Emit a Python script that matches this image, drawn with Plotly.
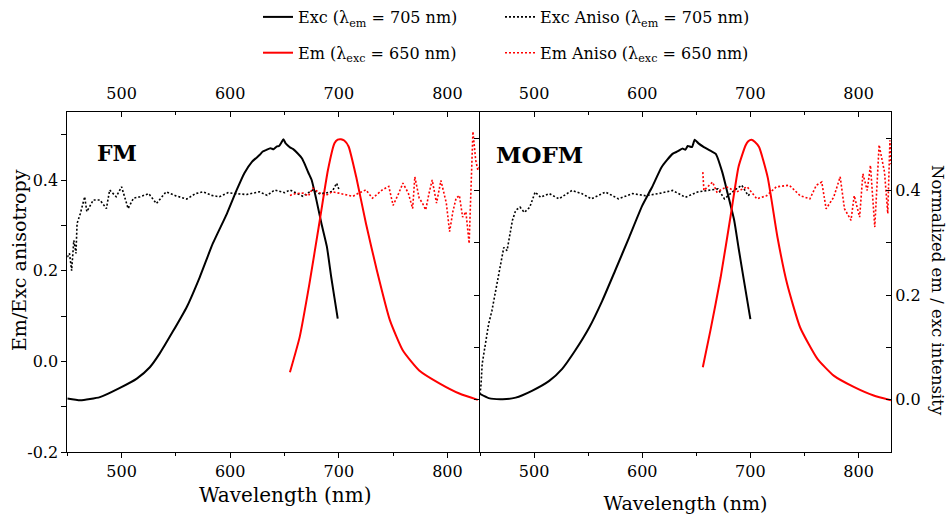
import plotly.graph_objects as go

# ---------------- data ----------------
# FM panel (left axis: Em/Exc anisotropy scale)
fm_exc_wl = [450, 462, 480, 498, 514, 526, 535, 547, 560, 572, 584, 597, 606, 613, 620, 627, 630, 633, 637, 640,
             643, 645, 647, 649, 651, 653, 655, 658, 662, 666, 669, 672, 675, 679, 684, 689, 693, 696, 699]
fm_exc = [-0.082, -0.086, -0.079, -0.059, -0.038, -0.013, 0.017, 0.065, 0.12, 0.186, 0.26, 0.326, 0.378, 0.415,
          0.44, 0.455, 0.463, 0.466, 0.47, 0.468, 0.474, 0.475, 0.482, 0.49, 0.481, 0.476, 0.472, 0.468, 0.459,
          0.448, 0.433, 0.416, 0.40, 0.36, 0.304, 0.253, 0.186, 0.14, 0.094]
fm_em_wl = [655, 664, 673, 682, 690, 696, 699, 702, 705, 709, 716, 725, 735, 747, 759, 774, 793, 811, 828]
fm_em = [-0.024, 0.054, 0.172, 0.304, 0.422, 0.481, 0.489, 0.49, 0.487, 0.474, 0.407, 0.304, 0.201, 0.091, 0.024,
         -0.02, -0.049, -0.071, -0.085]
fm_exc_aniso_wl = [450, 452, 454, 456, 458, 459, 462, 466, 468, 474, 480, 486, 489, 495, 500, 506, 511, 517, 525,
                   532, 541, 550, 560, 568, 575, 583, 590, 598, 605, 615, 627, 634, 641, 650, 655, 662, 667, 672,
                   676, 682, 688, 694, 698, 700]
fm_exc_aniso = [0.23, 0.238, 0.2, 0.267, 0.238, 0.304, 0.326, 0.363, 0.33, 0.356, 0.356, 0.337, 0.378, 0.363,
                0.385, 0.337, 0.36, 0.363, 0.37, 0.348, 0.374, 0.365, 0.358, 0.37, 0.374, 0.366, 0.363, 0.372,
                0.37, 0.368, 0.374, 0.366, 0.378, 0.372, 0.378, 0.37, 0.364, 0.372, 0.378, 0.37, 0.371, 0.375,
                0.393, 0.38]
fm_em_aniso_wl = [655, 660, 667, 672, 676, 682, 688, 694, 700, 706, 713, 719, 725, 731, 736, 740, 746, 750, 755,
                  759, 764, 768, 770, 774, 777, 780, 783, 786, 790, 794, 799, 802, 805, 808, 811, 814, 817, 820,
                  823.5, 826, 828, 830]
fm_em_aniso = [0.366, 0.37, 0.371, 0.365, 0.382, 0.372, 0.366, 0.374, 0.371, 0.368, 0.364, 0.372, 0.378, 0.36,
               0.37, 0.378, 0.386, 0.344, 0.37, 0.393, 0.371, 0.337, 0.407, 0.36, 0.349, 0.334, 0.37, 0.40,
               0.349, 0.399, 0.349, 0.286, 0.33, 0.36, 0.366, 0.318, 0.33, 0.26, 0.507, 0.444, 0.422, 0.43]

# MOFM panel (right axis: normalized em / exc intensity scale)
mofm_exc_wl = [450, 458, 471, 483, 498, 514, 526, 538, 551, 563, 575, 588, 600, 609, 618, 628, 633, 637, 640, 642,
               646, 648.5, 652, 657, 663, 668, 674, 679, 685, 689, 694, 700]
mofm_exc = [0.011, 0.003, 0.001, 0.004, 0.017, 0.036, 0.059, 0.094, 0.138, 0.189, 0.247, 0.311, 0.371, 0.406,
            0.445, 0.47, 0.475, 0.48, 0.478, 0.485, 0.483, 0.497, 0.49, 0.483, 0.476, 0.47, 0.435, 0.394, 0.343,
            0.291, 0.228, 0.154]
mofm_em_wl = [656, 663, 672.5, 682, 689, 695.5, 698, 701, 704, 708, 716, 725, 734, 746, 762, 777, 796, 814, 830]
mofm_em = [0.062, 0.132, 0.234, 0.355, 0.445, 0.486, 0.494, 0.497, 0.493, 0.483, 0.425, 0.311, 0.221, 0.138,
           0.078, 0.046, 0.024, 0.008, -0.001]
mofm_exc_aniso_wl = [450, 451, 452, 455, 458, 461, 464.5, 467.5, 472, 475, 480, 483, 487, 491, 496, 501, 506, 514,
                     523, 535, 544, 553, 566, 578, 591, 603, 615, 628, 640, 651, 660, 670, 676, 685, 692, 698, 700]
mofm_exc_aniso = [0.01, 0.03, 0.068, 0.107, 0.145, 0.17, 0.209, 0.247, 0.291, 0.285, 0.343, 0.362, 0.368, 0.358,
                  0.368, 0.397, 0.387, 0.394, 0.384, 0.40, 0.394, 0.384, 0.397, 0.384, 0.394, 0.39, 0.394, 0.40,
                  0.387, 0.397, 0.40, 0.403, 0.384, 0.40, 0.41, 0.39, 0.395]
mofm_em_aniso_wl = [656, 657, 665, 669, 678, 687, 697, 706, 715, 724, 736, 746, 755, 761, 766, 770, 777, 783, 787,
                    793, 796, 801, 804, 808, 811, 815, 819, 824, 827, 829, 830]
mofm_em_aniso = [0.435, 0.40, 0.416, 0.397, 0.407, 0.397, 0.407, 0.384, 0.39, 0.407, 0.41, 0.39, 0.384, 0.41,
                 0.416, 0.365, 0.387, 0.426, 0.365, 0.343, 0.39, 0.349, 0.432, 0.40, 0.448, 0.33, 0.487, 0.435,
                 0.356, 0.496, 0.45]

x_ticks = [500, 600, 700, 800]
x_minor = [450, 550, 650, 750]
left_y_ticks = [-0.2, 0.0, 0.2, 0.4]
left_y_text = ["-0.2", "0.0", "0.2", "0.4"]
left_y_minor = [-0.1, 0.1, 0.3, 0.5]
right_y_ticks = [0.0, 0.2, 0.4]
right_y_text = ["0.0", "0.2", "0.4"]
right_y_minor = [0.1, 0.3, 0.5]
inner_ticks = [0.0, 0.1, 0.2, 0.3, 0.4, 0.5]

lbl_exc = "Exc (λ<sub>em</sub> = 705 nm)"
lbl_em = "Em (λ<sub>exc</sub> = 650 nm)"
lbl_exc_an = "Exc Aniso (λ<sub>em</sub> = 705 nm)"
lbl_em_an = "Em Aniso (λ<sub>exc</sub> = 650 nm)"

FONT = "DejaVu Serif"
W, H = 948, 517
XL = [67.3 / W, 480 / W]
XR = [480 / W, 891 / W]
YD = [(H - 452) / H, (H - 112) / H]

SOLID = dict(width=2, shape="spline", smoothing=0.5)
DOT = dict(width=1.6, dash="2px,2px")

fig = go.Figure()
# left panel (FM)
fig.add_trace(go.Scatter(x=fm_exc_wl, y=fm_exc, mode="lines", line=dict(SOLID, color="black"),
                         name=lbl_exc, legend="legend", legendgroup="a", xaxis="x", yaxis="y"))
fig.add_trace(go.Scatter(x=fm_em_wl, y=fm_em, mode="lines", line=dict(SOLID, color="red"),
                         name=lbl_em, legend="legend", legendgroup="b", xaxis="x", yaxis="y"))
fig.add_trace(go.Scatter(x=fm_exc_aniso_wl, y=fm_exc_aniso, mode="lines", line=dict(DOT, color="black"),
                         name=lbl_exc_an, legend="legend2", legendgroup="c", xaxis="x", yaxis="y"))
fig.add_trace(go.Scatter(x=fm_em_aniso_wl, y=fm_em_aniso, mode="lines", line=dict(DOT, color="red"),
                         name=lbl_em_an, legend="legend2", legendgroup="d", xaxis="x", yaxis="y"))
# right panel (MOFM)
fig.add_trace(go.Scatter(x=mofm_exc_wl, y=mofm_exc, mode="lines", line=dict(SOLID, color="black"),
                         showlegend=False, xaxis="x2", yaxis="y2"))
fig.add_trace(go.Scatter(x=mofm_em_wl, y=mofm_em, mode="lines", line=dict(SOLID, color="red"),
                         showlegend=False, xaxis="x2", yaxis="y2"))
fig.add_trace(go.Scatter(x=mofm_exc_aniso_wl, y=mofm_exc_aniso, mode="lines", line=dict(DOT, color="black"),
                         showlegend=False, xaxis="x2", yaxis="y2"))
fig.add_trace(go.Scatter(x=mofm_em_aniso_wl, y=mofm_em_aniso, mode="lines", line=dict(DOT, color="red"),
                         showlegend=False, xaxis="x2", yaxis="y2"))
# empty traces so the top (mirror) axes get their own subplots drawn
fig.add_trace(go.Scatter(x=[], y=[], mode="lines", showlegend=False, hoverinfo="skip", xaxis="x3", yaxis="y"))
fig.add_trace(go.Scatter(x=[], y=[], mode="lines", showlegend=False, hoverinfo="skip", xaxis="x4", yaxis="y2"))
fig.add_trace(go.Scatter(x=[], y=[], mode="lines", showlegend=False, hoverinfo="skip", xaxis="x2", yaxis="y4"))

tickfont = dict(family=FONT, size=16, color="black")
common_x = dict(range=[450, 830], showgrid=False, zeroline=False, showline=True, linecolor="black",
                linewidth=1, tickvals=x_ticks, ticklen=5, tickcolor="black", tickfont=tickfont,
                automargin=False)
minor_out_x = dict(tickvals=x_minor, ticklen=3, tickcolor="black", ticks="outside")
minor_in_x = dict(tickvals=x_minor, ticklen=3, tickcolor="black", ticks="inside")

fig.update_layout(
    width=W, height=H, template="none", paper_bgcolor="white", plot_bgcolor="rgba(0,0,0,0)",
    margin=dict(l=0, r=0, t=0, b=0),
    font=dict(family=FONT, color="black"),
    xaxis=dict(common_x, domain=XL, anchor="y", side="bottom", ticks="outside", minor=minor_out_x),
    xaxis3=dict(common_x, domain=XL, anchor="y", overlaying="x", side="top", ticks="inside",
                minor=minor_in_x, ticklabelstandoff=6),
    xaxis2=dict(common_x, domain=XR, anchor="y2", side="bottom", ticks="outside", minor=minor_out_x,
                title=dict(text="Wavelength (nm)", font=dict(family=FONT, size=19), standoff=16)),
    xaxis4=dict(common_x, domain=XR, anchor="y2", overlaying="x2", side="top", ticks="inside",
                minor=minor_in_x, ticklabelstandoff=6),
    yaxis=dict(domain=YD, anchor="x", range=[-0.2, 0.55], side="left", showgrid=False, zeroline=False,
               showline=True, linecolor="black", linewidth=1, ticks="outside", ticklen=5, tickcolor="black",
               tickvals=left_y_ticks, ticktext=left_y_text, tickfont=tickfont, automargin=False,
               minor=dict(tickvals=left_y_minor, ticklen=5, tickcolor="black", ticks="outside")),
    yaxis2=dict(domain=YD, anchor="x2", range=[-0.1, 0.55], side="right", showgrid=False, zeroline=False,
                showline=True, linecolor="black", linewidth=1, ticks="inside", ticklen=5, tickcolor="black",
                tickvals=right_y_ticks, ticktext=right_y_text, tickfont=tickfont, automargin=False,
                minor=dict(tickvals=right_y_minor, ticklen=5, tickcolor="black", ticks="inside")),
    yaxis4=dict(domain=YD, anchor="x2", overlaying="y2", range=[-0.1, 0.55], side="left", showgrid=False,
                zeroline=False, showline=True, linecolor="black", linewidth=1, ticks="outside", ticklen=5,
                tickcolor="black", tickvals=inner_ticks, showticklabels=False, automargin=False),
    legend=dict(x=258 / W, y=1, xanchor="left", yanchor="top", orientation="v",
                font=dict(family=FONT, size=16), tracegroupgap=12, bgcolor="rgba(0,0,0,0)"),
    legend2=dict(x=500 / W, y=1, xanchor="left", yanchor="top", orientation="v",
                 font=dict(family=FONT, size=16), tracegroupgap=12, bgcolor="rgba(0,0,0,0)"),
    annotations=[
        dict(text="<b>FM</b>", x=95 / W, y=1 - 153 / H, xref="paper", yref="paper", showarrow=False,
             xanchor="left", yanchor="middle", font=dict(family=FONT, size=22)),
        dict(text="<b>MOFM</b>", x=494 / W, y=1 - 155 / H, xref="paper", yref="paper", showarrow=False,
             xanchor="left", yanchor="middle", font=dict(family=FONT, size=23)),
        dict(text="Em/Exc anisotropy", x=19 / W, y=1 - 260 / H, xref="paper", yref="paper",
             xanchor="center", yanchor="middle", showarrow=False, textangle=-90,
             font=dict(family=FONT, size=19)),
        dict(text="Wavelength (nm)", x=285 / W, y=1 - 495 / H, xref="paper", yref="paper",
             xanchor="center", yanchor="middle", showarrow=False, font=dict(family=FONT, size=20)),
        dict(text="Normalized em / exc intensity", x=938 / W, y=1 - 290 / H, xref="paper", yref="paper",
             xanchor="center", yanchor="middle", showarrow=False, textangle=90,
             font=dict(family=FONT, size=16.5)),
    ],
)

fig.write_html("out.html")
